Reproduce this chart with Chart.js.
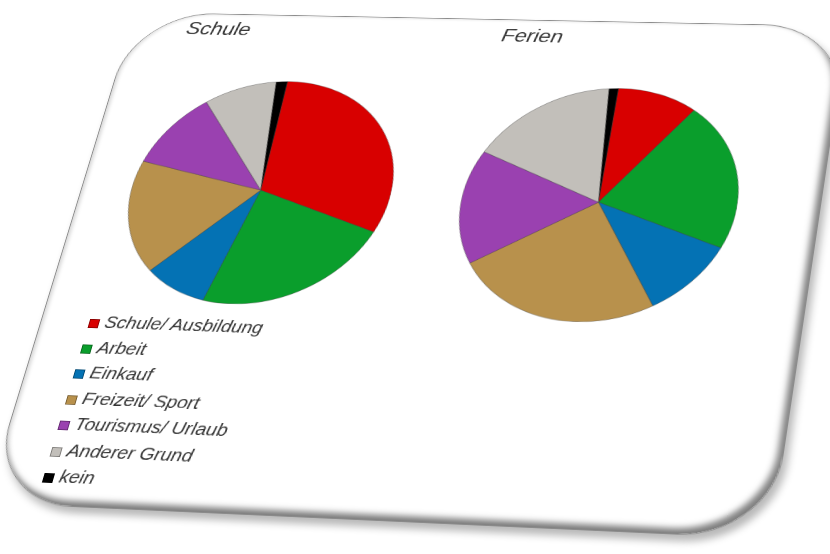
<!DOCTYPE html>
<html lang="de">
<head>
<meta charset="utf-8">
<title>Wegezwecke Schule / Ferien</title>
<script src="https://cdn.jsdelivr.net/npm/chart.js@4"></script>
<style>
  html, body { margin: 0; padding: 0; background: #fff; overflow: hidden; }
  body { width: 830px; height: 554px; position: relative; }
  #card {
    position: absolute; left: 0; top: 0;
    width: 800px; height: 620px;
    box-sizing: border-box;
    background: #fff;
    border: 1px solid #8c8c8c;
    border-radius: 92px;
    box-shadow: inset -5px -6px 7px rgba(0,0,0,0.5), inset 3px 0 4px rgba(0,0,0,0.12), 5px 7px 9px rgba(0,0,0,0.28);
    transform-origin: 0 0;
    font-family: "Liberation Sans", Arial, sans-serif;
    font-style: italic;
    color: #363636;
  }
  .title { position: absolute; width: 140px; text-align: center; font-size: 24px; line-height: 28px; }
  .pie { position: absolute; }
  #legend { position: absolute; left: 52px; top: 387px; font-size: 20px; }
  #legend div { height: 30.5px; line-height: 30.5px; white-space: nowrap; }
  #legend span.box {
    display: inline-block; width: 11px; height: 11px; margin-right: 6px;
    box-sizing: border-box; border: 1px solid rgba(0,0,0,0.35); vertical-align: -1px;
  }
</style>
</head>
<body>
<div id="card">
  <div class="title" style="left:31px; top:6px;">Schule</div>
  <div class="title" style="left:386px; top:7px;">Ferien</div>
  <div class="pie" style="left:55px; top:89px;"><canvas id="schule" width="286" height="286"></canvas></div>
  <div class="pie" style="left:418px; top:88px;"><canvas id="ferien" width="294" height="294"></canvas></div>
  <div id="legend"></div>
</div>
<script>
// Wegezwecke in Prozent
const reasons = ['Schule/ Ausbildung', 'Arbeit', 'Einkauf', 'Freizeit/ Sport', 'Tourismus/ Urlaub', 'Anderer Grund', 'kein'];
const colors = ['#d80000', '#0a9e2c', '#0472b4', '#b8914c', '#9a41b0', '#c2bfba', '#000000'];
const schuleValues = [30.8, 22.9, 8.4, 16.9, 10.8, 8.8, 1.4];
const ferienValues = [9.9, 21.1, 10.4, 24.6, 15.9, 16.9, 1.1];

// card is drawn flat and then tilted onto its four corners
const cardCorners = [[135, 12], [848, 26], [771, 539], [-15, 503]];

function homography(w, h, pts) {
  const src = [[0, 0], [w, 0], [w, h], [0, h]];
  const A = [], B = [];
  for (let i = 0; i < 4; i++) {
    const [x, y] = src[i];
    const [X, Y] = pts[i];
    A.push([x, y, 1, 0, 0, 0, -X * x, -X * y]); B.push(X);
    A.push([0, 0, 0, x, y, 1, -Y * x, -Y * y]); B.push(Y);
  }
  const n = 8;
  for (let c = 0; c < n; c++) {
    let p = c;
    for (let r = c + 1; r < n; r++) if (Math.abs(A[r][c]) > Math.abs(A[p][c])) p = r;
    [A[c], A[p]] = [A[p], A[c]];
    [B[c], B[p]] = [B[p], B[c]];
    for (let r = 0; r < n; r++) {
      if (r === c) continue;
      const f = A[r][c] / A[c][c];
      for (let k = c; k < n; k++) A[r][k] -= f * A[c][k];
      B[r] -= f * B[c];
    }
  }
  const m = B.map((b, i) => b / A[i][i]);
  return `matrix3d(${m[0]},${m[3]},0,${m[6]},${m[1]},${m[4]},0,${m[7]},0,0,1,0,${m[2]},${m[5]},0,1)`;
}

const card = document.getElementById('card');
card.style.transform = homography(800, 620, cardCorners);

function makePie(id, values) {
  return new Chart(document.getElementById(id), {
    type: 'pie',
    data: {
      labels: reasons,
      datasets: [{
        data: values,
        backgroundColor: colors,
        borderColor: 'rgba(60,60,60,0.45)',
        borderWidth: 0.8
      }]
    },
    options: {
      responsive: false,
      animation: false,
      devicePixelRatio: 2,
      rotation: -1,
      layout: { padding: 0 },
      plugins: {
        legend: { display: false },
        tooltip: { enabled: false }
      }
    }
  });
}

makePie('schule', schuleValues);
makePie('ferien', ferienValues);

// legend below the left pie
const legend = document.getElementById('legend');
reasons.forEach((name, i) => {
  const row = document.createElement('div');
  const box = document.createElement('span');
  box.className = 'box';
  box.style.background = colors[i];
  row.appendChild(box);
  row.appendChild(document.createTextNode(name));
  legend.appendChild(row);
});
</script>
</body>
</html>
